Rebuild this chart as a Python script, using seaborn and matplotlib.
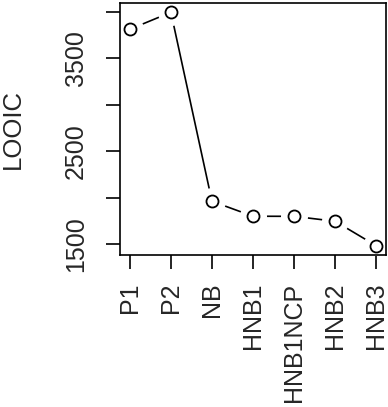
import matplotlib
matplotlib.use("Agg")
import matplotlib.pyplot as plt
import pandas as pd
import seaborn as sns

models = ["P1", "P2", "NB", "HNB1", "HNB1NCP", "HNB2", "HNB3"]
looic = [3812, 3995, 1962, 1801, 1800, 1747, 1484]
y_ticks = [1500, 2000, 2500, 3000, 3500, 4000]
y_labels = ["1500", "", "2500", "", "3500", ""]

sns.set_style("white")
plt.rcParams["font.family"] = ["Liberation Sans", "DejaVu Sans"]

df = pd.DataFrame({"pos": range(1, len(models) + 1), "model": models, "looic": looic})

fig = plt.figure(figsize=(3.88, 4.07), dpi=100)
ax = fig.add_axes([120 / 388, (407 - 255) / 407, 266 / 388, 252 / 407])

# R type="b": line with gaps around the points
sns.lineplot(data=df, x="pos", y="looic", color="black", linewidth=1.2, ax=ax)
ax.scatter(df["pos"], df["looic"], s=340, color="white", zorder=2.2)
sns.scatterplot(data=df, x="pos", y="looic", s=75, facecolor="white",
                edgecolor="black", linewidth=1.3, zorder=4, ax=ax)

ax.set_xlim(0.76, 7.24)
ax.set_ylim(1384, 4095)
ax.set_xticks(df["pos"])
ax.set_xticklabels(models, rotation=90, fontsize=18)
ax.set_yticks(y_ticks)
ax.set_yticklabels(y_labels, rotation=90, va="center", fontsize=18)
ax.set_xlabel("")
ax.set_ylabel("LOOIC", fontsize=18.5, labelpad=28)

ax.tick_params(axis="both", direction="out", length=10, width=1.2, color="black",
               left=True, bottom=True)
ax.tick_params(axis="y", pad=13)
ax.tick_params(axis="x", pad=10)
for s in ax.spines.values():
    s.set_color("black")
    s.set_linewidth(1.2)
    s.set_zorder(3)

fig.savefig("out.png", dpi=100)
